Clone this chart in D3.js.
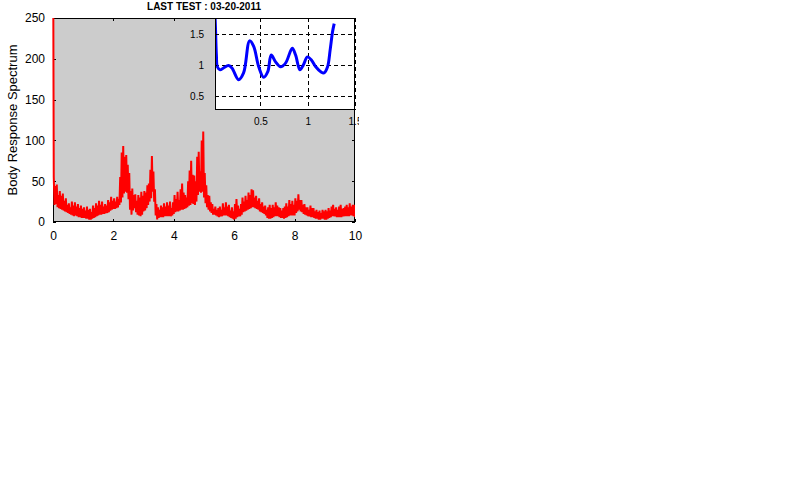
<!DOCTYPE html>
<html>
<head>
<meta charset="utf-8">
<script src="https://cdn.jsdelivr.net/npm/d3@7"></script>
<style>
  html, body { margin: 0; padding: 0; background: #ffffff; }
  svg { display: block; }
  text { font-family: "Liberation Sans", Arial, sans-serif; }
</style>
</head>
<body>
<svg id="chart" width="792" height="500"></svg>
<script>
// ---------------- DATA ----------------
const chartTitle = "LAST TEST : 03-20-2011";
const yAxisLabel = "Body Response Spectrum";

// main spectrum: frequency grid step and values
const freqStep = 0.025;
const spectrum = [
  400,
  55,21, 44,22, 46,18, 33,17, 38,16, 32,15, 35,14, 26,13, 29,12, 21,11,
  23,10, 18,9, 25,8, 20,7, 24,8, 19,7, 22,6, 17,6, 20,5, 16,5,
  18,5, 14,4, 19,4, 15,3, 16,3, 12,4, 20,5, 17,6, 23,7, 20,8,
  26,9, 21,9, 25,10, 19,10, 22,11, 20,11, 27,12, 24,14, 31,15, 26,16,
  29,16, 25,17, 31,18, 28,21, 55,24, 85,30, 93,35, 80,37, 82,36, 70,28,
  60,15, 38,9, 41,14, 33,17, 34,12, 26,9, 33,8, 30,7, 37,9, 32,13,
  38,14, 36,17, 45,21, 47,25, 64,29, 81,37, 62,25, 40,8, 22,3, 18,5,
  15,6, 20,6, 18,6, 23,7, 19,7, 24,7, 20,7, 25,7, 17,8, 24,10,
  33,12, 28,13, 37,13, 27,14, 40,15, 47,15, 36,16, 33,17, 30,18, 50,20,
  63,21, 75,23, 58,22, 57,21, 50,25, 80,33, 86,37, 62,36, 100,37, 111,30,
  60,23, 45,18, 33,15, 32,13, 24,11, 22,9, 16,9, 19,8, 15,7, 17,6,
  19,7, 15,7, 23,8, 18,8, 24,8, 19,7, 21,6, 14,5, 18,4, 13,3,
  22,4, 28,6, 20,7, 16,7, 22,9, 30,12, 25,13, 32,14, 27,15, 36,16,
  33,17, 40,18, 39,18, 30,17, 32,16, 26,15, 29,13, 22,12, 24,11, 19,10,
  20,8, 15,5, 18,4, 21,4, 17,5, 21,6, 18,7, 24,7, 20,7, 18,6,
  17,5, 14,5, 17,4, 19,5, 23,6, 19,7, 27,8, 22,8, 26,8, 21,8,
  29,11, 26,13, 34,15, 27,13, 27,12, 21,10, 22,9, 18,8, 18,7, 15,7,
  20,6, 17,6, 17,5, 13,4, 15,4, 12,3, 14,3, 11,4, 15,4, 13,3,
  15,3, 13,4, 17,5, 14,6, 19,7, 21,7, 16,7, 18,6, 15,6, 19,6,
  21,6, 16,7, 17,7, 19,7, 21,7, 18,7, 23,8, 19,8, 21,7, 21,6
];
const mainXTicks = [0, 2, 4, 6, 8, 10];
const mainYTicks = [0, 50, 100, 150, 200, 250];

// inset curve
const insetX = [0.015, 0.025, 0.035, 0.045, 0.074, 0.110, 0.163, 0.199, 0.269, 0.322,
                0.386, 0.429, 0.482, 0.535, 0.578, 0.614, 0.660, 0.713, 0.766, 0.837,
                0.872, 0.918, 0.954, 0.997, 1.039, 1.085, 1.138, 1.173, 1.210, 1.237,
                1.263, 1.280];
const insetY = [2.0, 1.6, 1.15, 0.97, 0.92, 0.95, 0.99, 0.95, 0.76, 0.87,
                1.39, 1.30, 0.97, 0.80, 0.89, 1.16, 1.05, 0.97, 1.03, 1.27,
                1.16, 0.92, 1.00, 1.13, 1.08, 0.97, 0.89, 0.87, 0.97, 1.24,
                1.54, 1.67];
const insetXTicks = [0.5, 1, 1.5];
const insetYTicks = [0.5, 1, 1.5];

// ---------------- LAYOUT ----------------
const svg = d3.select("#chart");
const M = { left: 53, right: 355, top: 18, bottom: 222 };
const I = { left: 215, right: 355, top: 18, bottom: 110 };

const x = d3.scaleLinear().domain([0, 10]).range([M.left, M.right]);
const y = d3.scaleLinear().domain([0, 250]).range([M.bottom, M.top]);

const ix = d3.scaleLinear().domain([0.02, 1.5]).range([I.left, I.right]);
const iy = d3.scaleLinear().domain([0.27, 1.76]).range([I.bottom, I.top]);

const defs = svg.append("defs");
defs.append("clipPath").attr("id", "mainClip")
  .append("rect").attr("x", M.left - 2).attr("y", M.top)
  .attr("width", M.right - M.left + 2).attr("height", M.bottom - M.top);
defs.append("clipPath").attr("id", "insetClip")
  .append("rect").attr("x", I.left).attr("y", I.top)
  .attr("width", I.right - I.left).attr("height", I.bottom - I.top);
defs.append("clipPath").attr("id", "figClip")
  .append("rect").attr("x", 0).attr("y", 0).attr("width", 359).attr("height", 500);

// main background
svg.append("rect")
  .attr("x", M.left).attr("y", M.top)
  .attr("width", M.right - M.left).attr("height", M.bottom - M.top)
  .attr("fill", "#cccccc");

// main ticks (inside) on all sides
const fontMain = "12px";
const gx = svg.append("g").attr("transform", `translate(0,${M.bottom})`)
  .call(d3.axisBottom(x).tickValues(mainXTicks).tickFormat(d3.format("d"))
        .tickSizeInner(-3).tickSizeOuter(0).tickPadding(9));
const gy = svg.append("g").attr("transform", `translate(${M.left},0)`)
  .call(d3.axisLeft(y).tickValues(mainYTicks).tickFormat(d3.format("d"))
        .tickSizeInner(-3).tickSizeOuter(0).tickPadding(8));
const gt = svg.append("g").attr("transform", `translate(0,${M.top})`)
  .call(d3.axisTop(x).tickValues(mainXTicks).tickFormat("")
        .tickSizeInner(-3).tickSizeOuter(0));
const gr = svg.append("g").attr("transform", `translate(${M.right},0)`)
  .call(d3.axisRight(y).tickValues(mainYTicks).tickFormat("")
        .tickSizeInner(-3).tickSizeOuter(0));
[gx, gy, gt, gr].forEach(g => {
  g.select(".domain").remove();
  g.selectAll("line").attr("stroke", "#000").attr("shape-rendering", "crispEdges");
  g.selectAll("text").attr("fill", "#000").style("font-size", fontMain)
    .style("font-family", "'Liberation Sans', Arial, sans-serif");
});

// main frame
svg.append("rect")
  .attr("x", M.left + 0.5).attr("y", M.top + 0.5)
  .attr("width", M.right - M.left - 1).attr("height", M.bottom - M.top - 1)
  .attr("fill", "none").attr("stroke", "#000").attr("stroke-width", 1)
  .attr("shape-rendering", "crispEdges");

// red spectrum line
const spectrumPts = spectrum.map((v, i) => [i * freqStep, v]);
svg.append("path")
  .datum(spectrumPts)
  .attr("clip-path", "url(#mainClip)")
  .attr("fill", "none")
  .attr("stroke", "#ff0000")
  .attr("stroke-width", 2)
  .attr("stroke-linejoin", "miter")
  .attr("d", d3.line().x(d => x(d[0])).y(d => y(d[1])));

// ---------------- INSET ----------------
svg.append("rect")
  .attr("x", I.left).attr("y", I.top)
  .attr("width", I.right - I.left).attr("height", I.bottom - I.top)
  .attr("fill", "#ffffff");

// dashed grid
const grid = svg.append("g").attr("stroke", "#000").attr("stroke-width", 1)
  .attr("stroke-dasharray", "4,3").attr("shape-rendering", "crispEdges");
grid.selectAll("line.vx").data(insetXTicks).join("line")
  .attr("x1", d => Math.round(ix(d)) + 0.5).attr("x2", d => Math.round(ix(d)) + 0.5)
  .attr("y1", I.top).attr("y2", I.bottom);
grid.selectAll("line.hy").data(insetYTicks).join("line")
  .attr("x1", I.left).attr("x2", I.right)
  .attr("y1", d => Math.round(iy(d)) + 0.5).attr("y2", d => Math.round(iy(d)) + 0.5);

// blue curve
svg.append("path")
  .datum(insetX.map((v, i) => [v, insetY[i]]))
  .attr("clip-path", "url(#insetClip)")
  .attr("fill", "none")
  .attr("stroke", "#0000ff")
  .attr("stroke-width", 3)
  .attr("stroke-linejoin", "round")
  .attr("d", d3.line().x(d => ix(d[0])).y(d => iy(d[1])).curve(d3.curveCatmullRom.alpha(0.5)));

// inset axes
const fontInset = "10px";
const igx = svg.append("g").attr("transform", `translate(0,${I.bottom})`)
  .attr("clip-path", "url(#figClip)")
  .call(d3.axisBottom(ix).tickValues(insetXTicks).tickFormat(d => String(d))
        .tickSizeInner(-2).tickSizeOuter(0).tickPadding(8));
const igy = svg.append("g").attr("transform", `translate(${I.left},0)`)
  .call(d3.axisLeft(iy).tickValues(insetYTicks).tickFormat(d => String(d))
        .tickSizeInner(-2).tickSizeOuter(0).tickPadding(11));
[igx, igy].forEach(g => {
  g.select(".domain").remove();
  g.selectAll("line").attr("stroke", "#000").attr("shape-rendering", "crispEdges");
  g.selectAll("text").attr("fill", "#000").style("font-size", fontInset)
    .style("font-family", "'Liberation Sans', Arial, sans-serif");
});

svg.append("rect")
  .attr("x", I.left + 0.5).attr("y", I.top + 0.5)
  .attr("width", I.right - I.left - 1).attr("height", I.bottom - I.top - 1)
  .attr("fill", "none").attr("stroke", "#000").attr("stroke-width", 1)
  .attr("shape-rendering", "crispEdges");

// ---------------- TEXT ----------------
svg.append("text")
  .attr("x", (M.left + M.right) / 2).attr("y", 10)
  .attr("text-anchor", "middle")
  .style("font-size", "10px").style("font-weight", "bold")
  .text(chartTitle);

svg.append("text")
  .attr("transform", `translate(17,${(M.top + M.bottom) / 2}) rotate(-90)`)
  .attr("text-anchor", "middle")
  .style("font-size", "13px")
  .text(yAxisLabel);
</script>
</body>
</html>
